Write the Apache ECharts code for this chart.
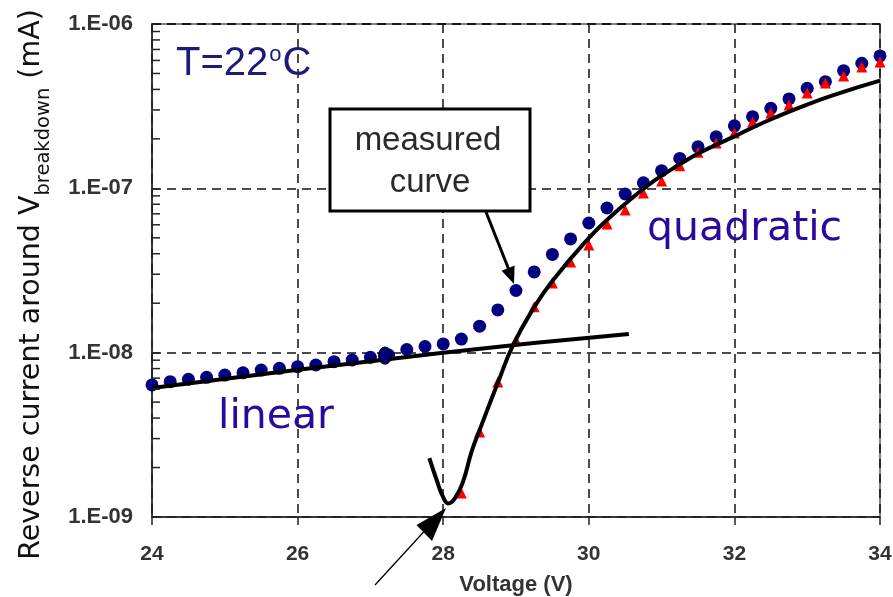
<!DOCTYPE html>
<html>
<head>
<meta charset="utf-8">
<script src="https://cdn.jsdelivr.net/npm/echarts@6/dist/echarts.min.js"></script>
<style>
html,body{margin:0;padding:0;background:#fff;}
#chart{width:893px;height:597px;}
</style>
</head>
<body>
<div id="chart"></div>
<script>
// ---- data ----
const xTicks = [24, 26, 28, 30, 32, 34];
const yTickLabels = ['1.E-09', '1.E-08', '1.E-07', '1.E-06'];
const minorTickValues = [2e-9,3e-9,4e-9,5e-9,6e-9,7e-9,8e-9,9e-9,
                         2e-8,3e-8,4e-8,5e-8,6e-8,7e-8,8e-8,9e-8,
                         2e-7,3e-7,4e-7,5e-7,6e-7,7e-7,8e-7,9e-7];

const measuredVolts = [24,24.25,24.5,24.75,25,25.25,25.5,25.75,26,26.25,26.5,26.75,27,27.25,
  27.5,27.75,28,28.25,28.5,28.75,29,29.25,29.5,29.75,30,30.25,30.5,30.75,31,31.25,31.5,31.75,
  32,32.25,32.5,32.75,33,33.25,33.5,33.75,34];
const measuredCurrent = [6.36e-9,6.66e-9,6.89e-9,7.08e-9,7.31e-9,7.55e-9,7.84e-9,8.03e-9,8.22e-9,8.41e-9,
  8.81e-9,9.02e-9,9.37e-9,9.68e-9,1.045e-8,1.09e-8,1.13e-8,1.21e-8,1.45e-8,1.82e-8,2.39e-8,3.10e-8,
  3.96e-8,4.92e-8,6.15e-8,7.59e-8,9.24e-8,1.08e-7,1.28e-7,1.52e-7,1.79e-7,2.06e-7,2.40e-7,2.73e-7,
  3.07e-7,3.50e-7,4.06e-7,4.46e-7,5.20e-7,5.77e-7,6.39e-7];

const markerVolt = [27.2];
const markerCurrent = [9.6e-9];

const modelVolts = [28.25,28.5,28.75,29,29.25,29.5,29.75,30,30.25,30.5,30.75,31,31.25,31.5,31.75,
  32,32.25,32.5,32.75,33,33.25,33.5,33.75,34];
const modelCurrent = [1.40e-9,3.29e-9,6.63e-9,1.19e-8,1.90e-8,2.65e-8,3.56e-8,4.52e-8,6.07e-8,7.38e-8,
  9.37e-8,1.11e-7,1.37e-7,1.66e-7,1.89e-7,2.17e-7,2.53e-7,2.87e-7,3.22e-7,3.80e-7,4.38e-7,4.83e-7,
  5.47e-7,5.87e-7];

const quadVolts = [27.81,27.91,28.0,28.07,28.16,28.27,28.39,28.5,28.76,28.96,29.24,29.51,30.0,30.29,
  30.61,30.91,31.25,31.53,32.0,32.44,32.9,33.36,34.0];
const quadCurrent = [2.28e-9,1.68e-9,1.32e-9,1.21e-9,1.30e-9,1.63e-9,2.50e-9,3.38e-9,6.72e-9,1.11e-8,
  1.86e-8,2.77e-8,4.98e-8,6.66e-8,8.84e-8,1.122e-7,1.40e-7,1.65e-7,2.07e-7,2.56e-7,3.11e-7,3.69e-7,4.52e-7];

const linVolts = [24, 28, 30.55];
const linCurrent = [6.1e-9, 1.0e-8, 1.3e-8];

const zip = (a, b) => a.map((v, i) => [v, b[i]]);

const chart = echarts.init(document.getElementById('chart'), null, {renderer: 'canvas'});

const labelFont = '"Liberation Sans", Arial, sans-serif';
const dejavu = '"DejaVu Sans", sans-serif';

chart.setOption({
  animation: false,
  backgroundColor: '#fff',
  grid: {left: 152, right: 13, top: 24, bottom: 80, containLabel: false, outerBoundsMode: 'none',
         show: true, borderColor: '#555', borderWidth: 1.5, backgroundColor: 'transparent'},
  xAxis: {
    type: 'value', min: xTicks[0], max: xTicks[xTicks.length - 1], interval: 2,
    name: 'Voltage (V)', nameLocation: 'middle', nameGap: 57,
    nameTextStyle: {fontFamily: labelFont, fontWeight: 'bold', fontSize: 22, color: '#333'},
    axisLine: {show: true, lineStyle: {color: '#222', width: 1.5}},
    axisTick: {show: true, inside: false, length: 8, lineStyle: {color: '#222', width: 1.5}},
    axisLabel: {margin: 27, fontFamily: labelFont, fontWeight: 'bold', fontSize: 21, color: '#333'},
    splitLine: {show: true, lineStyle: {color: '#111', width: 1.5, type: [9, 6]}}
  },
  yAxis: {
    type: 'log', logBase: 10, min: 1e-9, max: 1e-6,
    name: '{a|Reverse current around V}{b|breakdown}{a| (mA)}',
    nameLocation: 'middle', nameGap: 106, nameRotate: 90,
    nameTextStyle: {
      padding: [0, 28, 0, 0],
      rich: {
        a: {fontFamily: dejavu, fontSize: 28.5, color: '#111', lineHeight: 34, verticalAlign: 'bottom'},
        b: {fontFamily: dejavu, fontSize: 19.5, color: '#111', lineHeight: 20, verticalAlign: 'bottom', padding: [0, 0, -8, 0]}
      }
    },
    axisLine: {show: true, lineStyle: {color: '#222', width: 1.5}},
    axisTick: {show: true, inside: true, length: 8, lineStyle: {color: '#222', width: 1.5}},
    minorTick: {show: false},
    axisLabel: {
      margin: 19, fontFamily: labelFont, fontWeight: 'bold', fontSize: 22, color: '#333',
      formatter: function (v) {
        const e = Math.round(Math.log10(v));
        return yTickLabels[e + 9];
      }
    },
    splitLine: {show: true, lineStyle: {color: '#111', width: 1.5, type: [9, 6]}}
  },
  series: [
    {
      type: 'custom', name: 'minor ticks', silent: true, clip: false, z: 5,
      data: minorTickValues.map(v => [xTicks[0], v]),
      renderItem: function (params, api) {
        const p = api.coord([api.value(0), api.value(1)]);
        return {type: 'line', shape: {x1: p[0], y1: p[1], x2: p[0] + 8, y2: p[1]},
                style: {stroke: '#222', lineWidth: 1.5}};
      }
    },
    {
      type: 'scatter', name: 'measured', data: zip(measuredVolts, measuredCurrent),
      symbol: 'circle', symbolSize: 13, itemStyle: {color: '#000080', opacity: 1}, z: 2
    },
    {
      type: 'scatter', name: 'marker', data: zip(markerVolt, markerCurrent),
      symbol: 'circle', symbolSize: [13, 17], itemStyle: {color: '#000070', opacity: 1, borderColor: '#000', borderWidth: 1}, z: 6
    },
    {
      type: 'scatter', name: 'model', data: zip(modelVolts, modelCurrent),
      symbol: 'triangle', symbolSize: 11, itemStyle: {color: '#ff0000', opacity: 1}, z: 3
    },
    {
      type: 'line', name: 'linear', data: zip(linVolts, linCurrent), showSymbol: false, smooth: true,
      lineStyle: {color: '#000', width: 4}, z: 4
    },
    {
      type: 'line', name: 'quadratic', data: zip(quadVolts, quadCurrent), showSymbol: false, smooth: 0.5,
      lineStyle: {color: '#000', width: 4}, z: 4
    }
  ],
  graphic: [
    {type: 'text', left: 176, top: 44, z: 100,
     style: {text: '{a|T=22}{s|o}{a|C}', rich: {
        a: {fontFamily: labelFont, fontSize: 40, fill: '#1c1c78', verticalAlign: 'bottom', lineHeight: 40},
        s: {fontFamily: labelFont, fontSize: 22, fill: '#1c1c78', verticalAlign: 'top', lineHeight: 40, padding: [0, 1, 16, 1]}
     }}},
    {type: 'text', x: 218, y: 417, z: 100,
     style: {text: 'linear', font: '41px "DejaVu Sans", sans-serif', fill: '#2a0a9c', verticalAlign: 'middle'}},
    {type: 'text', x: 647, y: 229, z: 100,
     style: {text: 'quadratic', font: '41px "DejaVu Sans", sans-serif', fill: '#2a0a9c', verticalAlign: 'middle'}},
    {type: 'rect', z: 100, shape: {x: 330, y: 109, width: 200, height: 102},
     style: {fill: '#fff', stroke: '#000', lineWidth: 3}},
    {type: 'text', x: 428, y: 141, z: 101,
     style: {text: 'measured', font: '33px "Liberation Sans", Arial, sans-serif', fill: '#2a2a2a', align: 'center', verticalAlign: 'middle'}},
    {type: 'text', x: 430, y: 183, z: 101,
     style: {text: 'curve', font: '33px "Liberation Sans", Arial, sans-serif', fill: '#2a2a2a', align: 'center', verticalAlign: 'middle'}},
    {type: 'line', z: 100, shape: {x1: 486, y1: 212, x2: 509, y2: 270},
     style: {stroke: '#000', lineWidth: 3}},
    {type: 'polygon', z: 100, shape: {points: [[514, 284], [514.6, 265.6], [501.6, 270.8]]},
     style: {fill: '#000'}},
    {type: 'line', z: 100, shape: {x1: 375, y1: 585, x2: 430, y2: 525},
     style: {stroke: '#000', lineWidth: 1.3}},
    {type: 'polygon', z: 100, shape: {points: [[446, 508], [416.5, 525], [432, 541]]},
     style: {fill: '#000'}}
  ]
});
</script>
</body>
</html>
